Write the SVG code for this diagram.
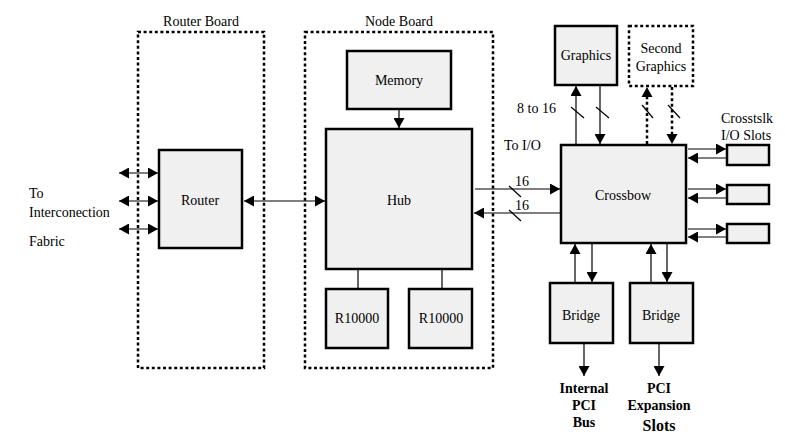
<svg xmlns="http://www.w3.org/2000/svg" width="785" height="443" viewBox="0 0 785 443" font-family="'Liberation Serif', Tinos, 'DejaVu Serif', serif">
<defs>
<marker id="ah" markerUnits="userSpaceOnUse" markerWidth="11" markerHeight="11" refX="10" refY="5.5" orient="auto-start-reverse"><path d="M0,0 L10,5.5 L0,11 z" fill="#000"/></marker>
<style>
text{font-family:'Liberation Serif', Tinos, 'DejaVu Serif', serif;font-size:14px;fill:#000}
.c{text-anchor:middle}
.b{font-weight:bold}
.box{fill:#f0f0f0;stroke:#000;stroke-width:2.5}
.board{fill:none;stroke:#000;stroke-width:2.5;stroke-dasharray:3 2.6}
.dbox{fill:#fff;stroke:#000;stroke-width:2.5;stroke-dasharray:3 2.6}
.ln{fill:none;stroke:#000;stroke-width:1.2}
.dl{fill:none;stroke:#000;stroke-width:2.5;stroke-dasharray:3 2.6}
.sl{stroke:#000;stroke-width:1.2}
</style>
</defs>
<rect width="785" height="443" fill="#fff"/>
<g id="router-board"><rect class="board" x="138" y="32" width="126" height="336"/><text class="c" x="201" y="26">Router Board</text></g>
<g id="node-board"><rect class="board" x="305" y="32" width="188" height="336"/><text class="c" x="399" y="26">Node Board</text></g>
<g id="router"><rect class="box" x="159" y="150" width="83" height="98"/><text class="c" x="200" y="205">Router</text></g>
<g id="memory"><rect class="box" x="347" y="51" width="104" height="58"/><text class="c" x="399" y="85">Memory</text></g>
<g id="hub"><rect class="box" x="326" y="129" width="146" height="140"/><text class="c" x="399" y="205">Hub</text></g>
<g id="cpu1"><rect class="box" x="326" y="289" width="62" height="59"/><text class="c" x="357" y="323">R10000</text></g>
<g id="cpu2"><rect class="box" x="409" y="289" width="63" height="59"/><text class="c" x="441" y="323">R10000</text></g>
<g id="crossbow"><rect class="box" x="561" y="145" width="125" height="98"/><text class="c" x="623" y="200">Crossbow</text></g>
<g id="graphics"><rect class="box" x="555" y="26" width="62" height="59"/><text class="c" x="586" y="60">Graphics</text></g>
<g id="second-graphics"><rect class="dbox" x="629" y="26" width="64" height="60"/><text class="c" x="661" y="53">Second</text><text class="c" x="661" y="71">Graphics</text></g>
<g id="io1"><rect class="box" x="727" y="145" width="42" height="20"/></g>
<g id="io2"><rect class="box" x="727" y="185" width="42" height="19"/></g>
<g id="io3"><rect class="box" x="727" y="224" width="42" height="19"/></g>
<g id="bridge1"><rect class="box" x="550" y="283" width="63" height="60"/><text class="c" x="581" y="320">Bridge</text></g>
<g id="bridge2"><rect class="box" x="630" y="283" width="63" height="60"/><text class="c" x="661" y="320">Bridge</text></g>
<g id="connectors">
<line class="ln" x1="119" y1="173" x2="158" y2="173" marker-start="url(#ah)" marker-end="url(#ah)"/>
<line class="ln" x1="119" y1="201" x2="158" y2="201" marker-start="url(#ah)" marker-end="url(#ah)"/>
<line class="ln" x1="119" y1="229" x2="158" y2="229" marker-start="url(#ah)" marker-end="url(#ah)"/>
<line class="ln" x1="244" y1="201" x2="325" y2="201" marker-start="url(#ah)" marker-end="url(#ah)"/>
<line class="ln" x1="399" y1="110" x2="399" y2="128" marker-end="url(#ah)"/>
<line class="ln" x1="358" y1="270" x2="358" y2="289"/>
<line class="ln" x1="442" y1="270" x2="442" y2="289"/>
<line class="ln" x1="475" y1="189" x2="560" y2="189" marker-end="url(#ah)"/>
<line class="ln" x1="562" y1="213" x2="474" y2="213" marker-end="url(#ah)"/>
<line class="sl" x1="509" y1="186" x2="521" y2="197"/>
<line class="sl" x1="509" y1="210" x2="521" y2="221"/>
<line class="ln" x1="576" y1="144" x2="576" y2="86" marker-end="url(#ah)"/>
<line class="ln" x1="600" y1="86" x2="600" y2="144" marker-end="url(#ah)"/>
<line class="sl" x1="571" y1="107" x2="584" y2="118"/>
<line class="sl" x1="596" y1="107" x2="609" y2="118"/>
<line class="dl" x1="647" y1="144" x2="647" y2="94"/>
<path d="M641.5,97 L647,87 L652.5,97 z" fill="#000"/>
<line class="dl" x1="672" y1="87" x2="672" y2="135"/>
<path d="M666.5,134 L672,144 L677.5,134 z" fill="#000"/>
<line class="sl" x1="642" y1="105" x2="653" y2="118"/>
<line class="sl" x1="668" y1="105" x2="680" y2="118"/>
<line class="ln" x1="688" y1="149" x2="726" y2="149" marker-end="url(#ah)"/>
<line class="ln" x1="727" y1="158" x2="688" y2="158" marker-end="url(#ah)"/>
<line class="ln" x1="688" y1="189" x2="726" y2="189" marker-end="url(#ah)"/>
<line class="ln" x1="727" y1="198" x2="688" y2="198" marker-end="url(#ah)"/>
<line class="ln" x1="688" y1="229" x2="726" y2="229" marker-end="url(#ah)"/>
<line class="ln" x1="727" y1="237" x2="688" y2="237" marker-end="url(#ah)"/>
<line class="ln" x1="575" y1="282" x2="575" y2="244" marker-end="url(#ah)"/>
<line class="ln" x1="592" y1="244" x2="592" y2="282" marker-end="url(#ah)"/>
<line class="ln" x1="651" y1="282" x2="651" y2="244" marker-end="url(#ah)"/>
<line class="ln" x1="667" y1="244" x2="667" y2="282" marker-end="url(#ah)"/>
<line class="ln" x1="584" y1="344" x2="584" y2="376" marker-end="url(#ah)"/>
<line class="ln" x1="659" y1="344" x2="659" y2="376" marker-end="url(#ah)"/>
</g>
<g id="labels">
<text x="29" y="198">To</text>
<text x="29" y="217">Interconection</text>
<text x="29" y="246">Fabric</text>
<text x="504" y="150">To I/O</text>
<text x="517" y="113">8 to 16</text>
<text x="515" y="186">16</text>
<text x="515" y="210">16</text>
<text x="721" y="123">Crosstslk</text>
<text x="721" y="140">I/O Slots</text>
<text class="c b" x="584" y="393">Internal</text>
<text class="c b" x="584" y="410">PCI</text>
<text class="c b" x="584" y="427">Bus</text>
<text class="c b" x="659" y="393">PCI</text>
<text class="c b" x="659" y="410">Expansion</text>
<text class="c b" x="659" y="431" style="font-size:16px">Slots</text>
</g>
</svg>
